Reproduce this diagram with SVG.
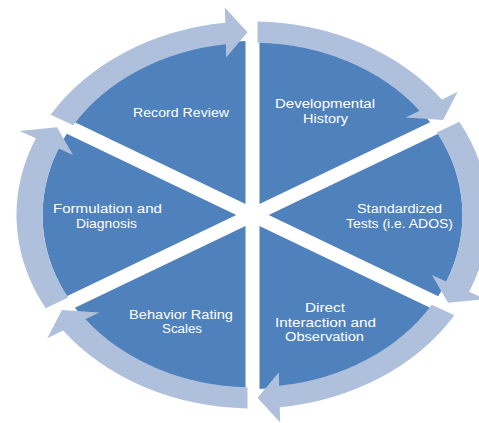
<svg xmlns="http://www.w3.org/2000/svg" xmlns:xlink="http://www.w3.org/1999/xlink" width="479" height="423" viewBox="0 0 479 423">
  <style>
    .sector { fill: #4F81BD; }
    .arrow { fill: #AFC0DC; }
    .label { font-family: "Liberation Sans", Arial, sans-serif; font-size: 12px; fill: #FFFFFF; text-anchor: middle; }
  </style>
  <defs>
    <path id="cycle-arrow" class="arrow" d="M -201.84,-122.30 A236,236 0 0 1 -27.26,-234.42 L -27.68,-252.94 L -5.00,-222.94 L -26.31,-191.96 L -26.67,-208.29 A210,210 0 0 0 -179.31,-109.30 Z"/>
  </defs>
  <rect width="479" height="423" fill="#FFFFFF"/>

  <g id="node-record-review">
    <path class="sector" d="M245.5,203.9 L74.9,122.2 A210,174 0 0 1 245.5,41.1 Z"/>
    <text class="label" x="181" y="116.5" textLength="96" lengthAdjust="spacingAndGlyphs">Record Review</text>
  </g>
  <g id="node-developmental-history">
    <path class="sector" d="M259.5,203.9 L259.5,41.1 A210,174 0 0 1 430.1,122.2 Z"/>
    <text class="label" x="325" y="108" textLength="100" lengthAdjust="spacingAndGlyphs">Developmental</text>
    <text class="label" x="325.5" y="122.5" textLength="45" lengthAdjust="spacingAndGlyphs">History</text>
  </g>
  <g id="node-standardized-tests">
    <path class="sector" d="M268.7,215 L438.2,133.8 A210,174 0 0 1 438.2,296.2 Z"/>
    <text class="label" x="399.5" y="213" textLength="85" lengthAdjust="spacingAndGlyphs">Standardized</text>
    <text class="label" x="399.5" y="227.5" textLength="107" lengthAdjust="spacingAndGlyphs">Tests (i.e. ADOS)</text>
  </g>
  <g id="node-direct-interaction">
    <path class="sector" d="M259.5,226.1 L430.1,307.8 A210,174 0 0 1 259.5,388.9 Z"/>
    <text class="label" x="325" y="312" textLength="40" lengthAdjust="spacingAndGlyphs">Direct</text>
    <text class="label" x="325.5" y="326.5" textLength="101" lengthAdjust="spacingAndGlyphs">Interaction and</text>
    <text class="label" x="324.5" y="341" textLength="79" lengthAdjust="spacingAndGlyphs">Observation</text>
  </g>
  <g id="node-behavior-rating">
    <path class="sector" d="M245.5,226.1 L245.5,388.9 A210,174 0 0 1 74.9,307.8 Z"/>
    <text class="label" x="181" y="319" textLength="104" lengthAdjust="spacingAndGlyphs">Behavior Rating</text>
    <text class="label" x="182" y="333" textLength="40" lengthAdjust="spacingAndGlyphs">Scales</text>
  </g>
  <g id="node-formulation-diagnosis">
    <path class="sector" d="M236.3,215 L66.8,296.2 A210,174 0 0 1 66.8,133.8 Z"/>
    <text class="label" x="107.5" y="213" textLength="109" lengthAdjust="spacingAndGlyphs">Formulation and</text>
    <text class="label" x="106.5" y="227.5" textLength="61" lengthAdjust="spacingAndGlyphs">Diagnosis</text>
  </g>

  <g id="connectors" transform="translate(252.5,215) scale(1,0.82)">
    <use xlink:href="#cycle-arrow" transform="rotate(0)"/>
    <use xlink:href="#cycle-arrow" transform="rotate(60)"/>
    <use xlink:href="#cycle-arrow" transform="rotate(120)"/>
    <use xlink:href="#cycle-arrow" transform="rotate(180)"/>
    <use xlink:href="#cycle-arrow" transform="rotate(240)"/>
    <use xlink:href="#cycle-arrow" transform="rotate(300)"/>
  </g>
</svg>
